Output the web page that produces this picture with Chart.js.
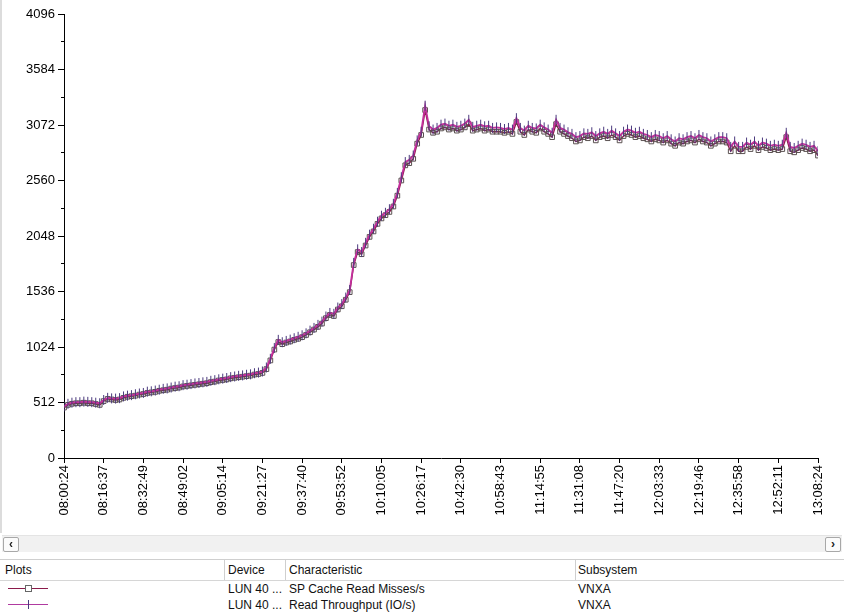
<!DOCTYPE html>
<html>
<head>
<meta charset="utf-8">
<script src="https://cdn.jsdelivr.net/npm/chart.js@4.4.0/dist/chart.umd.min.js"></script>
<style>
  body { margin: 0; background: #fff; font-family: "Liberation Sans", Arial, sans-serif; }
  .wrap { position: relative; width: 844px; height: 613px; overflow: hidden; background: #fff; }
  #chart { position: absolute; left: 0; top: 0; }
  .edge { position: absolute; left: 0; top: 0; width: 2px; height: 533px; background: #dcdcdc; }
  .scroll { position: absolute; left: 2px; top: 535px; width: 840px; height: 16px; background: #f1f1f1; border-top: 1px solid #e4e4e4; }
  .sbtn { position: absolute; top: 1px; width: 14px; height: 13px; border: 1px solid #a8a8a8; border-radius: 2px; background: #fbfbfb; font-size: 12px; line-height: 12px; text-align: center; color: #222; font-weight: bold; }
  .table { position: absolute; left: 0; top: 559px; width: 844px; height: 54px; border-top: 1px solid #cfcfcf; font-size: 12px; color: #111; }
  .head { position: absolute; left: 0; top: 0; width: 844px; height: 20px; border-bottom: 1px solid #d6d6d6; background: #fff; }
  .cell { position: absolute; white-space: nowrap; }
  .vline { position: absolute; top: 0; width: 1px; height: 20px; background: #cfcfcf; }
  .sym { position: absolute; height: 1px; }
</style>
</head>
<body>
<div class="wrap">
  <canvas id="chart" width="844" height="533"></canvas>
  <div class="edge"></div>
  <div class="scroll">
    <div class="sbtn" style="left:1px">&lsaquo;</div>
    <div class="sbtn" style="left:823px">&rsaquo;</div>
  </div>
  <div class="table">
    <div class="head">
      <div class="cell" style="left:5px;top:3px">Plots</div>
      <div class="vline" style="left:224px"></div>
      <div class="cell" style="left:228px;top:3px">Device</div>
      <div class="vline" style="left:285px"></div>
      <div class="cell" style="left:289px;top:3px">Characteristic</div>
      <div class="vline" style="left:575px"></div>
      <div class="cell" style="left:578px;top:3px">Subsystem</div>
    </div>
    <div class="sym" style="left:8px;top:28px;width:40px;background:#8b1a4a"></div>
    <div class="sym" style="left:25px;top:25px;width:5px;height:5px;border:1px solid #666;background:#fff"></div>
    <div class="cell" style="left:228px;top:22px">LUN 40 ...</div>
    <div class="cell" style="left:289px;top:22px">SP Cache Read Misses/s</div>
    <div class="cell" style="left:578px;top:22px">VNXA</div>
    <div class="sym" style="left:8px;top:44px;width:40px;background:#b03aa0"></div>
    <div class="sym" style="left:28px;top:40px;width:1px;height:9px;background:#4b3a7e"></div>
    <div class="cell" style="left:228px;top:38px">LUN 40 ...</div>
    <div class="cell" style="left:289px;top:38px">Read Throughput (IO/s)</div>
    <div class="cell" style="left:578px;top:38px">VNXA</div>
  </div>
</div>
<script>
const ctx = document.getElementById('chart').getContext('2d')

const timeLabels = ['08:00:24', '08:16:37', '08:32:49', '08:49:02', '09:05:14', '09:21:27', '09:37:40',
  '09:53:52', '10:10:05', '10:26:17', '10:42:30', '10:58:43', '11:14:55', '11:31:08', '11:47:20',
  '12:03:33', '12:19:46', '12:35:58', '12:52:11', '13:08:24']

const yTicks = [0, 512, 1024, 1536, 2048, 2560, 3072, 3584, 4096]

const cacheReadMisses = [
  465, 490, 500, 505, 505, 510, 505, 505, 498, 490,
  525, 545, 540, 535, 540, 555, 565, 570, 575, 585,
  590, 600, 605, 610, 620, 625, 630, 640, 645, 650,
  660, 665, 670, 675, 680, 685, 690, 700, 705, 715,
  720, 725, 735, 740, 745, 750, 755, 760, 770, 775,
  785, 820, 900, 1000, 1070, 1050, 1065, 1075, 1090, 1100,
  1115, 1135, 1160, 1185, 1210, 1240, 1290, 1320, 1310, 1370,
  1400, 1460, 1530, 1780, 1900, 1880, 1960, 2040, 2090, 2160,
  2210, 2240, 2270, 2320, 2420, 2560, 2700, 2720, 2760, 2900,
  2980, 3210, 3030, 3000, 3010, 3040, 3050, 3030, 3040, 3020,
  3030, 3050, 3080, 3020, 3030, 3040, 3020, 3030, 3010, 3010,
  3010, 3000, 3010, 2990, 3100, 3010, 2980, 3030, 3010, 3000,
  3040, 3010, 2990, 2960, 3080, 3010, 2990, 2970, 2950, 2920,
  2930, 2960, 2950, 2970, 2930, 2960, 2970, 2950, 2980, 2960,
  2930, 2970, 2990, 2980, 2960, 2970, 2950, 2940, 2920, 2940,
  2930, 2910, 2930, 2900, 2880, 2910, 2900, 2920, 2930, 2910,
  2940, 2920, 2910, 2880, 2900, 2920, 2920, 2910, 2830, 2880,
  2830, 2830, 2870, 2850, 2880, 2840, 2870, 2860, 2840, 2850,
  2840, 2850, 2960, 2830, 2820, 2840, 2860, 2850, 2830, 2840,
  2790
]

const readThroughput = [
  475, 500, 510, 515, 515, 520, 518, 515, 510, 505,
  535, 555, 550, 548, 552, 568, 575, 580, 588, 595,
  600, 612, 615, 622, 630, 638, 642, 650, 658, 662,
  672, 676, 682, 688, 692, 698, 702, 712, 718, 726,
  732, 738, 746, 752, 758, 762, 768, 772, 782, 788,
  798, 835, 915, 1015, 1090, 1068, 1080, 1092, 1105, 1118,
  1132, 1150, 1175, 1200, 1228, 1258, 1305, 1338, 1330, 1388,
  1420, 1480, 1550, 1800, 1925, 1900, 1985, 2060, 2115, 2180,
  2235, 2262, 2295, 2345, 2445, 2590, 2730, 2750, 2790, 2930,
  3010, 3250, 3060, 3030, 3045, 3075, 3085, 3065, 3075, 3055,
  3065, 3085, 3120, 3055, 3065, 3075, 3060, 3065, 3045, 3050,
  3045, 3035, 3045, 3030, 3135, 3045, 3020, 3065, 3045, 3040,
  3075, 3050, 3030, 3000, 3120, 3045, 3030, 3005, 2990, 2960,
  2970, 2995, 2990, 3005, 2970, 2995, 3010, 2990, 3020, 2995,
  2970, 3010, 3030, 3020, 3000, 3010, 2990, 2980, 2960, 2980,
  2970, 2950, 2970, 2940, 2920, 2950, 2940, 2960, 2970, 2950,
  2980, 2960, 2950, 2920, 2940, 2960, 2960, 2950, 2870, 2920,
  2870, 2870, 2910, 2890, 2920, 2880, 2910, 2900, 2880, 2890,
  2880, 2890, 3000, 2870, 2860, 2880, 2900, 2890, 2870, 2880,
  2830
]

const samplesPerLabel = 10
const tickFont = { family: '"Liberation Sans", Arial, sans-serif', size: 12 }

function toPoints(values) {
  return values.map((v, i) => ({ x: i, y: v }))
}

new Chart(ctx, {
  type: 'line',
  data: {
    datasets: [
      {
        label: 'Read Throughput (IO/s)',
        data: toPoints(readThroughput),
        borderColor: '#c42f9c',
        borderWidth: 1.8,
        pointStyle: 'line',
        rotation: 90,
        pointRadius: 5,
        pointBorderColor: '#4b3a7e',
        pointBorderWidth: 1,
        tension: 0
      },
      {
        label: 'SP Cache Read Misses/s',
        data: toPoints(cacheReadMisses),
        borderColor: '#8b1a4a',
        borderWidth: 1.4,
        pointStyle: 'rect',
        pointRadius: 3.3,
        pointBackgroundColor: 'rgba(255,255,255,0)',
        pointBorderColor: '#5a5050',
        pointBorderWidth: 1,
        tension: 0
      }
    ]
  },
  options: {
    responsive: false,
    animation: false,
    layout: { padding: { left: 0, top: 14, right: 26, bottom: 0 } },
    plugins: { legend: { display: false }, tooltip: { enabled: false } },
    scales: {
      x: {
        type: 'linear',
        min: 0,
        max: (timeLabels.length - 1) * samplesPerLabel,
        grid: { drawOnChartArea: false, tickLength: 5, color: '#000' },
        border: { color: '#000' },
        ticks: {
          stepSize: samplesPerLabel,
          maxRotation: 90,
          minRotation: 90,
          autoSkip: false,
          padding: 2,
          color: '#000',
          font: { family: tickFont.family, size: 13 },
          callback: (v) => timeLabels[Math.round(v / samplesPerLabel)]
        },
        afterFit: (s) => { s.height = 75 }
      },
      y: {
        position: 'left',
        weight: 1,
        min: yTicks[0],
        max: yTicks[yTicks.length - 1],
        grid: { drawOnChartArea: false, tickLength: 6, color: '#000' },
        border: { color: '#000' },
        ticks: {
          stepSize: yTicks[1] - yTicks[0],
          padding: 3,
          color: '#000',
          font: { family: tickFont.family, size: 13 },
          callback: (v) => String(v)
        },
        afterFit: (s) => { s.width = 64 }
      },
      yMinor: {
        position: 'left',
        weight: 0,
        min: yTicks[0],
        max: yTicks[yTicks.length - 1],
        grid: { drawOnChartArea: false, tickLength: 3, color: '#000' },
        border: { display: false },
        ticks: { stepSize: (yTicks[1] - yTicks[0]) / 2, callback: () => '' },
        afterFit: (s) => { s.width = 0 }
      }
    }
  }
})
</script>
</body>
</html>
